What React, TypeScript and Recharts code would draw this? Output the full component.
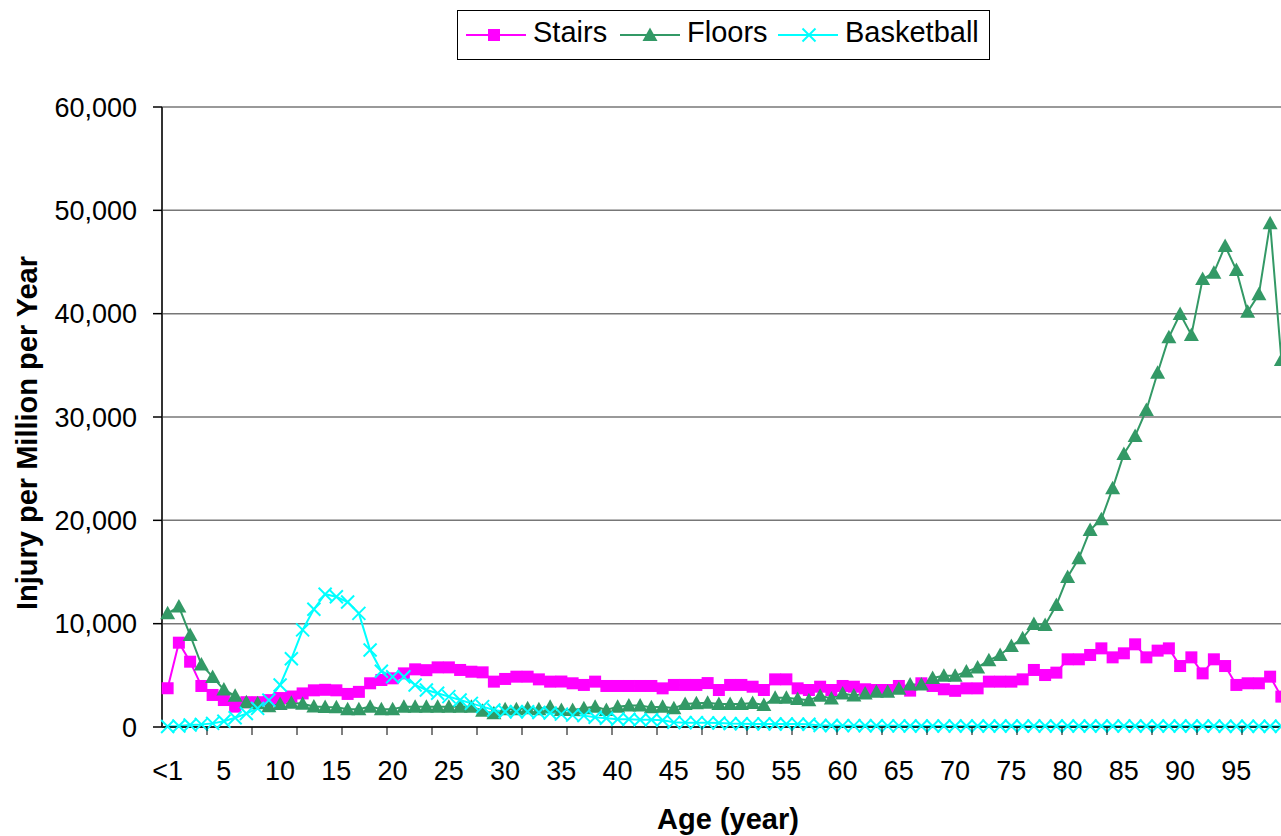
import React from 'react';
import { LineChart, Line, XAxis, YAxis, CartesianGrid } from 'recharts';

const ages = ['<1','1','2','3','4','5','6','7','8','9','10','11','12','13','14','15','16','17','18','19','20','21','22','23','24','25','26','27','28','29','30','31','32','33','34','35','36','37','38','39','40','41','42','43','44','45','46','47','48','49','50','51','52','53','54','55','56','57','58','59','60','61','62','63','64','65','66','67','68','69','70','71','72','73','74','75','76','77','78','79','80','81','82','83','84','85','86','87','88','89','90','91','92','93','94','95','96','97','98','99'];

const stairs = [3750,8160,6320,3970,3100,2610,1970,2400,2400,2600,2800,2950,3250,3550,3600,3550,3200,3400,4230,4550,4710,5190,5580,5500,5770,5770,5520,5350,5290,4390,4650,4870,4870,4610,4390,4400,4230,4070,4390,3970,3970,3970,3970,3970,3740,4070,4070,4070,4250,3580,4070,4070,3900,3580,4610,4610,3740,3580,3900,3580,3970,3900,3650,3580,3580,3970,3520,4230,3970,3650,3500,3740,3740,4390,4390,4390,4610,5520,5030,5260,6550,6550,6970,7610,6740,7130,8000,6740,7390,7610,5900,6740,5190,6550,5900,4070,4230,4230,4870,2940];

const floors = [11000,11650,8900,6050,4850,3620,3020,2400,2300,2000,2220,2350,2250,1990,1930,1900,1710,1710,1970,1710,1710,1970,1970,1970,1970,1970,1970,1970,1580,1320,1710,1710,1810,1710,1970,1650,1650,1810,1970,1650,1970,2070,2070,1900,1970,1810,2230,2290,2350,2230,2230,2230,2320,2130,2820,2820,2700,2580,3020,2770,3230,3050,3230,3420,3420,3700,4110,4110,4750,4950,4950,5360,5770,6450,6970,7840,8580,9970,9870,11810,14520,16320,19060,20100,23100,26420,28160,30680,34290,37710,39970,37940,43350,43970,46550,44220,40190,41870,48740,35520];

const basketball = [50,100,200,250,350,550,900,1300,1800,2600,4070,6600,9400,11400,12850,12600,12100,11000,7450,5400,4870,4870,4070,3580,3260,2940,2610,2290,1970,1650,1480,1480,1480,1400,1350,1250,1150,1100,950,850,750,750,700,700,650,450,420,420,400,380,330,320,300,300,290,290,280,270,150,140,130,130,120,120,110,110,100,100,100,100,100,100,100,100,100,100,100,100,100,100,90,90,90,90,90,90,90,90,90,90,90,90,90,90,80,80,80,80,80,80];

const yTicks = [0, 10000, 20000, 30000, 40000, 50000, 60000];

const seriesNames = ['Stairs', 'Floors', 'Basketball'];
const colors = { stairs: '#FF00FF', floors: '#339966', basketball: '#00FFFF' };

const data = ages.map((age, i) => ({ age, stairs: stairs[i], floors: floors[i], basketball: basketball[i] }));

const FONT = '"Liberation Sans", Arial, Helvetica, sans-serif';
const HALF_STEP = 5.625;

const Square = ({ cx, cy }: any) => <rect x={cx - 6} y={cy - 6} width={12} height={12} fill={colors.stairs} />;
const Tri = ({ cx, cy }: any) => (
  <polygon points={`${cx},${cy - 7.5} ${cx - 7.5},${cy + 6} ${cx + 7.5},${cy + 6}`} fill={colors.floors} />
);
const Cross = ({ cx, cy }: any) => (
  <g stroke={colors.basketball} strokeWidth={2}>
    <line x1={cx - 6.5} y1={cy - 6.5} x2={cx + 6.5} y2={cy + 6.5} />
    <line x1={cx - 6.5} y1={cy + 6.5} x2={cx + 6.5} y2={cy - 6.5} />
  </g>
);

const renderSquare = (p: any) => <Square key={`s-${p.index}`} cx={p.cx} cy={p.cy} />;
const renderTri = (p: any) => <Tri key={`f-${p.index}`} cx={p.cx} cy={p.cy} />;
const renderCross = (p: any) => <Cross key={`b-${p.index}`} cx={p.cx} cy={p.cy} />;

const AgeTick = (props: any) => {
  const { x, y, payload, index } = props;
  const i = typeof index === 'number' ? index : payload.index;
  return (
    <g>
      {i % 4 === 0 && i > 0 ? (
        <line x1={x - HALF_STEP} x2={x - HALF_STEP} y1={y} y2={y + 8} stroke="#000" strokeWidth={1} />
      ) : null}
      {i % 5 === 0 ? (
        <text x={x} y={y + 53} textAnchor="middle" fontSize={27} fontFamily={FONT} fill="#000">
          {payload.value}
        </text>
      ) : null}
    </g>
  );
};

const fmt = (v: number) => v.toLocaleString('en-US');

const LegendIcon = ({ x, kind }: { x: number; kind: string }) => {
  const color = (colors as any)[kind];
  return (
    <g>
      <line x1={x} x2={x + 60} y1={35} y2={35} stroke={color} strokeWidth={2} />
      {kind === 'stairs' && <Square cx={x + 28} cy={35} />}
      {kind === 'floors' && <Tri cx={x + 30} cy={35} />}
      {kind === 'basketball' && <Cross cx={x + 31} cy={35} />}
    </g>
  );
};

export default function App() {
  return (
    <div style={{ position: 'absolute', left: 0, top: 0, width: 1281, height: 836, overflow: 'hidden', background: '#fff' }}>
      <LineChart width={1300} height={836} data={data} margin={{ top: 107, right: 13, bottom: 0, left: 0 }}>
        <CartesianGrid vertical={false} stroke="#777" strokeWidth={1.5} />
        <XAxis
          dataKey="age"
          interval={0}
          tickLine={false}
          tickSize={0}
          tickMargin={0}
          height={109}
          padding={{ left: HALF_STEP, right: HALF_STEP }}
          axisLine={{ stroke: '#000', strokeWidth: 1.5 }}
          tick={<AgeTick />}
        />
        <YAxis
          width={162}
          domain={[0, 60000]}
          ticks={yTicks}
          interval={0}
          tickFormatter={fmt}
          tickSize={9}
          tickMargin={16}
          tickLine={{ stroke: '#000', strokeWidth: 1.5 }}
          axisLine={{ stroke: '#333', strokeWidth: 2 }}
          tick={{ fill: '#000', fontSize: 27, fontFamily: FONT }}
        />
        <Line type="linear" dataKey="stairs" name={seriesNames[0]} stroke={colors.stairs} strokeWidth={2} dot={renderSquare} activeDot={false} isAnimationActive={false} />
        <Line type="linear" dataKey="floors" name={seriesNames[1]} stroke={colors.floors} strokeWidth={2} dot={renderTri} activeDot={false} isAnimationActive={false} />
        <Line type="linear" dataKey="basketball" name={seriesNames[2]} stroke={colors.basketball} strokeWidth={2} dot={renderCross} activeDot={false} isAnimationActive={false} />
      </LineChart>
      <svg width={1281} height={836} style={{ position: 'absolute', left: 0, top: 0, pointerEvents: 'none' }}>
        <rect x={457.5} y={10.5} width={532} height={49} fill="#fff" stroke="#000" strokeWidth={1} />
        <LegendIcon x={466} kind="stairs" />
        <text x={533} y={42} fontSize={29} fontFamily={FONT} fill="#000">{seriesNames[0]}</text>
        <LegendIcon x={620} kind="floors" />
        <text x={687} y={42} fontSize={29} fontFamily={FONT} fill="#000">{seriesNames[1]}</text>
        <LegendIcon x={778} kind="basketball" />
        <text x={845} y={42} fontSize={29} fontFamily={FONT} fill="#000">{seriesNames[2]}</text>
        <text x={728} y={829} textAnchor="middle" fontSize={29} fontWeight="bold" fontFamily={FONT} fill="#000">Age (year)</text>
        <text transform="translate(37,433) rotate(-90)" textAnchor="middle" fontSize={29} fontWeight="bold" fontFamily={FONT} fill="#000">Injury per Million per Year</text>
      </svg>
    </div>
  );
}
